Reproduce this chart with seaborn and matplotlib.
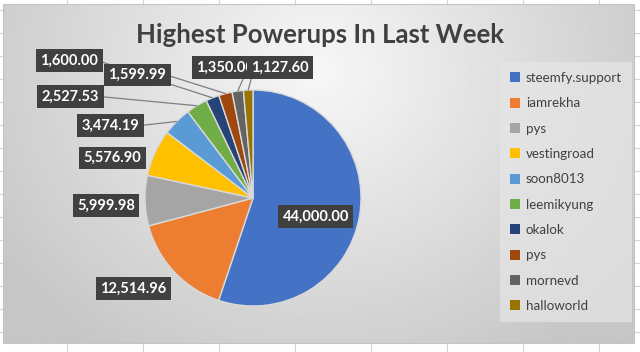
import numpy as np
import matplotlib
matplotlib.use("Agg")
import matplotlib.pyplot as plt
from matplotlib.patches import Rectangle
import seaborn as sns

names = ["steemfy.support", "iamrekha", "pys", "vestingroad", "soon8013",
         "leemikyung", "okalok", "pys", "mornevd", "halloworld"]
powerups = [44000.00, 12514.96, 5999.98, 5576.90, 3474.19,
            2527.53, 1600.00, 1599.99, 1350.00, 1127.60]
colors = ["#4472C4", "#ED7D31", "#A5A5A5", "#FFC000", "#5B9BD5",
          "#70AD47", "#264478", "#9E480E", "#636363", "#997300"]
title = "Highest Powerups In Last Week"

# label placement (pie radius units) and whether a leader line is drawn
label_pos = [(0.58, -0.17), (-1.11, -0.84), (-1.36, -0.07), (-1.30, 0.37), (-1.32, 0.67),
             (-1.69, 0.94), (-1.70, 1.27), (-1.07, 1.14), (-0.26, 1.21), (0.25, 1.21)]
leader_rel = [None, None, None, None, (1, 0.5),
              (1, 0.5), (1, 0.5), (1, 0.5), (0.85, 0), (0.02, 0)]

sns.set_theme(style="white")
plt.rcParams["font.family"] = ["Lato", "DejaVu Sans"]
palette = sns.color_palette(colors)

W, H = 640, 352
fig = plt.figure(figsize=(W / 100, H / 100), dpi=100)

# spreadsheet background with grid lines
bg = fig.add_axes([0, 0, 1, 1])
bg.set_xlim(0, W)
bg.set_ylim(H, 0)
bg.axis("off")
for x in np.arange(67, W, 76):
    bg.axvline(x, color="#d4d4d4", lw=0.8, zorder=0)
for y in np.arange(10, H, 23):
    bg.axhline(y, color="#d4d4d4", lw=0.8, zorder=0)

# chart area with a soft vignette gradient
fx0, fx1, fy0, fy1 = 3, 634, 4, 343
gx, gy = np.meshgrid(np.linspace(0, 1, 300), np.linspace(0, 1, 200))
d = np.sqrt(((gx - 0.5) / 0.6) ** 2 + ((gy - 0.2) / 1.0) ** 2)
shade = np.clip(0.97 - 0.19 * d, 0.78, 1.0)
bg.imshow(shade, cmap="gray", vmin=0, vmax=1, extent=(fx0, fx1, fy1, fy0),
          aspect="auto", zorder=1, interpolation="bilinear")
bg.add_patch(Rectangle((fx0, fy0), fx1 - fx0, fy1 - fy0, fill=False,
                       ec="#c4c4c4", lw=0.8, zorder=2))

bg.text(320, 35, title, ha="center", va="center", fontsize=18.5,
        fontweight="bold", color="#404040", zorder=3)

# pie
cx, cy, R = 253, 198, 108
ax = fig.add_axes([(cx - R) / W, (H - cy - R) / H, 2 * R / W, 2 * R / H])
wedges, _ = ax.pie(powerups, colors=palette, startangle=90, counterclock=False,
                   radius=1, wedgeprops=dict(edgecolor="#d9d9d9", linewidth=1))
ax.set_xlim(-1, 1)
ax.set_ylim(-1, 1)
ax.set_aspect("equal")
ax.axis("off")

for w, v, pos, rel in zip(wedges, powerups, label_pos, leader_rel):
    mid = np.deg2rad((w.theta1 + w.theta2) / 2)
    tip = (np.cos(mid), np.sin(mid))
    arrow = None
    if rel is not None:
        arrow = dict(arrowstyle="-", color="#7f7f7f", lw=0.9, shrinkA=0,
                     shrinkB=0, relpos=rel)
    ax.annotate(f"{v:,.2f}", xy=tip, xytext=pos, ha="center", va="center",
                fontsize=10.5, fontweight="bold", color="white",
                bbox=dict(boxstyle="square,pad=0.3", fc="#404040", ec="none"),
                arrowprops=arrow, annotation_clip=False, zorder=5)

# legend
handles = [Rectangle((0, 0), 1, 1, fc=c, ec="none") for c in palette]
leg = fig.legend(handles, names, loc="upper left",
                 bbox_to_anchor=(500 / W, (H - 62) / H), frameon=True,
                 fontsize=9.6, labelcolor="#404040", handlelength=0.75,
                 handleheight=0.75, handletextpad=0.45, labelspacing=1.0,
                 borderpad=0.75, borderaxespad=0)
frame = leg.get_frame()
frame.set_facecolor("#e6e6e6")
frame.set_alpha(0.7)
frame.set_edgecolor("none")
frame.set_boxstyle("square", pad=0)

fig.savefig("out.png", dpi=100)
